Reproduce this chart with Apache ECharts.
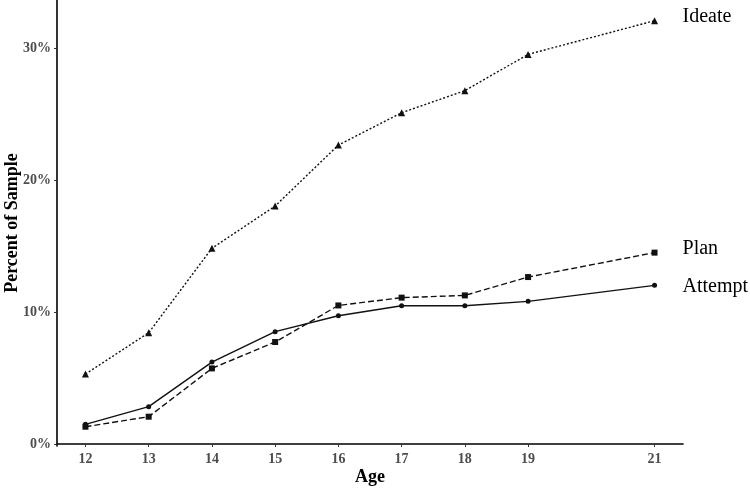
<!DOCTYPE html>
<html>
<head>
<meta charset="utf-8">
<script src="https://cdn.jsdelivr.net/npm/echarts@6/dist/echarts.min.js"></script>
<style>html,body{margin:0;padding:0;background:#fff}#c{width:750px;height:489px}</style>
</head>
<body>
<div id="c"></div>
<script>
const ages = [12, 13, 14, 15, 16, 17, 18, 19, 21];
const xTicks = [12, 13, 14, 15, 16, 17, 18, 19, 21];
const yTicks = [0, 10, 20, 30];
const ideate = [5.3, 8.43, 14.83, 18.03, 22.65, 25.1, 26.77, 29.52, 32.07];
const plan = [1.31, 2.07, 5.73, 7.73, 10.5, 11.09, 11.26, 12.65, 14.5];
const attempt = [1.49, 2.83, 6.21, 8.51, 9.72, 10.48, 10.48, 10.81, 12.02];

const font = 'Liberation Serif';
function pts(vals){ return ages.map((a,i)=>[a, vals[i]]); }

const chart = echarts.init(document.getElementById('c'), null, {renderer:'canvas'});
function mk(name, vals, symbol, size, ltype, off){
  return {
    name, type:'line', data: pts(vals), symbol, symbolSize:size,
    showAllSymbol:true, animation:false,
    lineStyle:{color:'#111', width:1.4, type:ltype},
    itemStyle:{color:'#111'},
    endLabel:{show:true, formatter:'{a}', distance:28, offset:off,
      fontFamily:font, fontSize:20, color:'#000'},
    emphasis:{disabled:true}
  };
}
chart.setOption({
  backgroundColor:'#fff',
  animation:false,
  grid:{left:57, right:67, top:0, bottom:43, containLabel:false, outerBoundsMode:'none'},
  xAxis:{
    type:'value', min:11.55, max:21.45,
    name:'Age', nameLocation:'middle', nameGap:22, nameMoveOverlap:false,
    nameTextStyle:{fontFamily:font, fontSize:18, fontWeight:'bold', color:'#000'},
    axisLine:{show:true, lineStyle:{color:'#000', width:1.6}},
    axisTick:{show:true, length:3, customValues:xTicks, lineStyle:{color:'#333'}},
    axisLabel:{customValues:xTicks, margin:6, fontFamily:font, fontSize:14, fontWeight:'bold', color:'#4d4d4d'},
    splitLine:{show:false}
  },
  yAxis:{
    type:'value', min:-0.15, max:33.64,
    name:'Percent of Sample', nameLocation:'middle', nameGap:36, nameRotate:90, nameMoveOverlap:false,
    nameTextStyle:{fontFamily:font, fontSize:18, fontWeight:'bold', color:'#000'},
    axisLine:{show:true, lineStyle:{color:'#000', width:1.6}},
    axisTick:{show:true, length:3, customValues:yTicks, lineStyle:{color:'#333'}},
    axisLabel:{customValues:yTicks, margin:6, formatter:'{value}%', fontFamily:font, fontSize:14, fontWeight:'bold', color:'#4d4d4d'},
    splitLine:{show:false}
  },
  series:[
    mk('Ideate', ideate, 'triangle', 7, [2,2], [0,-4]),
    mk('Plan', plan, 'rect', 6, [6,3], [0,-4]),
    mk('Attempt', attempt, 'circle', 5, 'solid', [0,1])
  ]
});
</script>
</body>
</html>
